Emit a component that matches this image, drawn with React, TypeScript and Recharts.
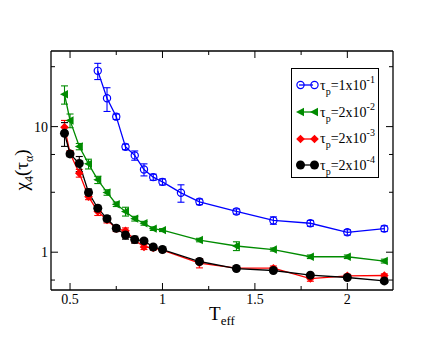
import { ErrorBar, Legend, Line, LineChart, XAxis, YAxis } from 'recharts'

// effective temperatures
const tempsBlue = [0.65, 0.7, 0.75, 0.8, 0.85, 0.9, 0.95, 1.0, 1.1, 1.2, 1.4, 1.6, 1.8, 2.0, 2.2]
const temps = [0.47, 0.5, 0.55, 0.6, 0.65, 0.7, 0.75, 0.8, 0.85, 0.9, 0.95, 1.0, 1.2, 1.4, 1.6, 1.8, 2.0, 2.2]

// chi_4(tau_alpha) for each tau_p, with error bars
const chiBlue = [27.8, 16.8, 12.0, 6.9, 5.9, 4.55, 3.96, 3.63, 2.97, 2.52, 2.11, 1.79, 1.7, 1.44, 1.54]
const errBlue = [4.1, 3.6, 0.6, 0.35, 0.5, 0.5, 0.22, 0.2, 0.47, 0.13, 0.1, 0.12, 0.09, 0.07, 0.08]
const chiGreen = [18.1, 11.2, 6.94, 5.05, 3.77, 2.99, 2.41, 2.11, 1.85, 1.7, 1.54, 1.5, 1.25, 1.12, 1.05, 0.92, 0.92, 0.85]
const errGreen = [3.0, 1.4, 0.4, 0.45, 0.25, 0.15, 0.1, 0.17, 0.08, 0.06, 0.05, 0.04, 0.04, 0.09, 0.03, 0.03, 0.03, 0.03]
const chiRed = [9.9, 6.14, 4.26, 2.77, 2.11, 1.81, 1.54, 1.48, 1.25, 1.1, 1.08, 1.04, 0.82, 0.746, 0.746, 0.617, 0.648, 0.652]
const errRed = [1.3, 0.3, 0.3, 0.15, 0.15, 0.1, 0.08, 0.08, 0.06, 0.05, 0.04, 0.03, 0.07, 0.02, 0.03, 0.03, 0.02, 0.02]
const chiBlack = [8.86, 6.06, 5.08, 2.99, 2.24, 1.85, 1.55, 1.37, 1.26, 1.23, 1.1, 1.05, 0.843, 0.741, 0.715, 0.656, 0.629, 0.591]
const errBlack = [1.9, 0.3, 0.7, 0.2, 0.12, 0.1, 0.08, 0.1, 0.08, 0.05, 0.04, 0.03, 0.03, 0.02, 0.02, 0.02, 0.02, 0.02]

const tauMantissa = ['1', '2', '2', '2']
const tauExponent = ['-1', '-2', '-3', '-4']

const majorX = [0.5, 1, 1.5, 2]
const xTicks = [0.5, 0.75, 1, 1.25, 1.5, 1.75, 2]
const majorY = [1, 10]
const yTicks = [0.6, 0.7, 0.8, 0.9, 1, 2, 3, 4, 5, 6, 7, 8, 9, 10, 20, 30]

const BLUE = '#0000ff'
const GREEN = '#008b00'
const RED = '#ff0000'
const BLACK = '#000000'
const font = '"Liberation Serif", "Times New Roman", serif'

const build = (xs: number[], ys: number[], es: number[]) => xs.map((t, i) => ({ t, chi: ys[i], err: es[i] }))

const blueData = build(tempsBlue, chiBlue, errBlue)
const greenData = build(temps, chiGreen, errGreen)
const redData = build(temps, chiRed, errRed)
const blackData = build(temps, chiBlack, errBlack)

function Marker({ kind, cx, cy }: { kind: number; cx: number; cy: number }) {
  if (kind === 0) return <circle cx={cx} cy={cy} r={3.6} fill="none" stroke={BLUE} strokeWidth={1.2} />
  if (kind === 1) return <polygon points={`${cx - 4.5},${cy} ${cx + 3.5},${cy - 4.2} ${cx + 3.5},${cy + 4.2}`} fill={GREEN} />
  if (kind === 2) return <polygon points={`${cx},${cy - 4.3} ${cx + 4.3},${cy} ${cx},${cy + 4.3} ${cx - 4.3},${cy}`} fill={RED} />
  return <circle cx={cx} cy={cy} r={4.5} fill={BLACK} />
}

const dotFor = (kind: number) => (p: any) => <Marker key={p.index} kind={kind} cx={p.cx} cy={p.cy} />

function BottomTick({ x, y, payload }: any) {
  const major = majorX.includes(payload.value)
  return (
    <g>
      <line x1={x} x2={x} y1={y} y2={y - (major ? 7 : 4)} stroke="#000" />
      {major && (
        <text x={x} y={y + 14} textAnchor="middle" fontFamily={font} fontSize={14} fill="#000">
          {payload.value}
        </text>
      )}
    </g>
  )
}

function TopTick({ x, y, payload }: any) {
  const major = majorX.includes(payload.value)
  return <line x1={x} x2={x} y1={y} y2={y + (major ? 7 : 4)} stroke="#000" />
}

function LeftTick({ x, y, payload }: any) {
  const major = majorY.includes(payload.value)
  return (
    <g>
      <line x1={x} x2={x + (major ? 7 : 4)} y1={y} y2={y} stroke="#000" />
      {major && (
        <text x={x - 3} y={y + 5} textAnchor="end" fontFamily={font} fontSize={14} fill="#000">
          {payload.value}
        </text>
      )}
    </g>
  )
}

function RightTick({ x, y, payload }: any) {
  const major = majorY.includes(payload.value)
  return <line x1={x} x2={x - (major ? 7 : 4)} y1={y} y2={y} stroke="#000" />
}

function XLabel({ viewBox }: any) {
  const cx = viewBox.x + viewBox.width / 2
  return (
    <text x={cx} y={viewBox.y + 30} textAnchor="middle" fontFamily={font} fill="#000">
      <tspan fontSize={19}>T</tspan>
      <tspan fontSize={13} dy={5}>eff</tspan>
    </text>
  )
}

function YLabel() {
  return (
    <text transform="translate(20,162) rotate(-90)" textAnchor="middle" fontFamily={font} fill="#000">
      <tspan fontSize={19}>χ</tspan>
      <tspan fontSize={12} dy={5}>4</tspan>
      <tspan fontSize={19} dy={-5}>(τ</tspan>
      <tspan fontSize={12} dy={5}>α</tspan>
      <tspan fontSize={19} dy={-5}>)</tspan>
    </text>
  )
}

function LegendBox() {
  return (
    <div style={{ border: '1.5px solid #000', width: 88, height: 110, boxSizing: 'border-box', background: '#fff', fontFamily: font, padding: '3px 0 0 4px' }}>
      {tauMantissa.map((m, i) => (
        <div key={i} style={{ display: 'flex', alignItems: 'center', height: 26.7 }}>
          <svg width={26} height={12} style={{ flex: 'none' }}>
            <line x1={3} x2={17} y1={6} y2={6} stroke={[BLUE, GREEN, RED, BLACK][i]} strokeWidth={1.3} />
            <Marker kind={i} cx={4.5} cy={6} />
            <Marker kind={i} cx={18.5} cy={6} />
          </svg>
          <span style={{ fontSize: 14, whiteSpace: 'nowrap', marginLeft: -2 }}>
            τ<sub style={{ fontSize: 10, verticalAlign: -5 }}>p</sub>={m}x10
            <sup style={{ fontSize: 10, verticalAlign: 7 }}>{tauExponent[i]}</sup>
          </span>
        </div>
      ))}
    </div>
  )
}

export default function App() {
  return (
    <LineChart width={435} height={334} margin={{ top: 42, right: 49, bottom: 22, left: 8 }}>
      <XAxis
        dataKey="t"
        type="number"
        domain={[0.397, 2.247]}
        allowDataOverflow
        ticks={xTicks}
        tick={<BottomTick />}
        tickLine={false}
        tickSize={0}
        tickMargin={0}
        height={30}
        axisLine={{ stroke: '#000', strokeWidth: 1.3 }}
        label={<XLabel />}
      />
      <XAxis
        xAxisId="top"
        orientation="top"
        dataKey="t"
        type="number"
        domain={[0.397, 2.247]}
        allowDataOverflow
        ticks={xTicks}
        tick={<TopTick />}
        tickLine={false}
        tickSize={0}
        tickMargin={0}
        height={1}
        axisLine={{ stroke: '#000', strokeWidth: 1.3 }}
      />
      <YAxis
        type="number"
        scale="log"
        domain={[0.5, 40]}
        allowDataOverflow
        ticks={yTicks}
        tick={<LeftTick />}
        tickLine={false}
        tickSize={0}
        tickMargin={0}
        width={35}
        axisLine={{ stroke: '#000', strokeWidth: 1.3 }}
        label={<YLabel />}
      />
      <YAxis
        yAxisId="right"
        orientation="right"
        type="number"
        scale="log"
        domain={[0.5, 40]}
        allowDataOverflow
        ticks={yTicks}
        tick={<RightTick />}
        tickLine={false}
        tickSize={0}
        tickMargin={0}
        width={1}
        axisLine={{ stroke: '#000', strokeWidth: 1.3 }}
      />
      <Legend
        layout="vertical"
        align="center"
        verticalAlign="middle"
        content={<LegendBox />}
        wrapperStyle={{ left: 283, top: 60, width: 88, height: 110 }}
      />
      <Line data={blueData} dataKey="chi" name="blue" stroke={BLUE} strokeWidth={1.3} dot={dotFor(0)} isAnimationActive={false}>
        <ErrorBar dataKey="err" direction="y" width={3.5} stroke={BLUE} strokeWidth={1.1} isAnimationActive={false} />
      </Line>
      <Line data={greenData} dataKey="chi" name="green" stroke={GREEN} strokeWidth={1.3} dot={dotFor(1)} isAnimationActive={false}>
        <ErrorBar dataKey="err" direction="y" width={3.5} stroke={GREEN} strokeWidth={1.1} isAnimationActive={false} />
      </Line>
      <Line data={redData} dataKey="chi" name="red" stroke={RED} strokeWidth={1.3} dot={dotFor(2)} isAnimationActive={false}>
        <ErrorBar dataKey="err" direction="y" width={3.5} stroke={RED} strokeWidth={1.1} isAnimationActive={false} />
      </Line>
      <Line data={blackData} dataKey="chi" name="black" stroke={BLACK} strokeWidth={1.3} dot={dotFor(3)} isAnimationActive={false}>
        <ErrorBar dataKey="err" direction="y" width={3.5} stroke={BLACK} strokeWidth={1.1} isAnimationActive={false} />
      </Line>
    </LineChart>
  )
}
